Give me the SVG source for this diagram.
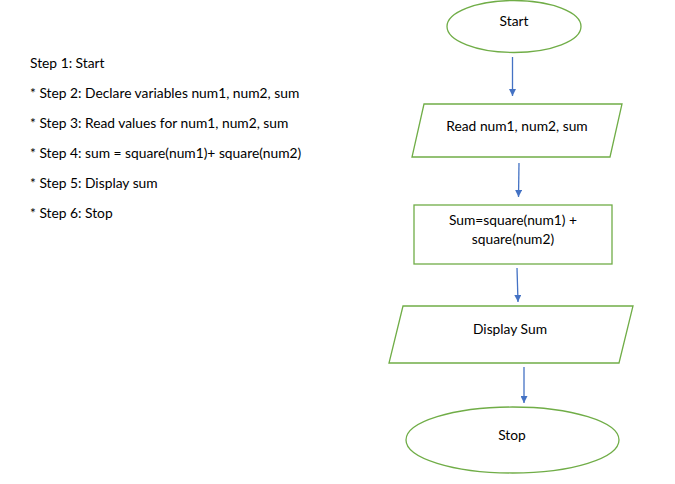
<svg xmlns="http://www.w3.org/2000/svg" width="675" height="484" viewBox="0 0 675 484">
<style>
.shape{fill:#fff;stroke:#70AD47;stroke-width:1.3}
.lbl{font-family:Lato,"Open Sans",sans-serif;font-size:13.8px;fill:#000;text-anchor:middle}
.step{font-family:Lato,"Open Sans",sans-serif;font-size:13.8px;fill:#000}
.conn{stroke:#4472C4;stroke-width:1.3;fill:none;marker-end:url(#ah)}
</style>
<defs>
<marker id="ah" markerWidth="7" markerHeight="7" refX="7" refY="3.5" orient="auto" markerUnits="userSpaceOnUse">
<path d="M0,0 L7,3.5 L0,7 Z" fill="#4472C4"/>
</marker>
</defs>
<rect width="675" height="484" fill="#fff"/>
<g id="steps">
<text class="step" x="30" y="68">Step 1: Start</text>
<text class="step" x="30" y="98">* Step 2: Declare variables num1, num2, sum</text>
<text class="step" x="30" y="128">* Step 3: Read values for num1, num2, sum</text>
<text class="step" x="30" y="158">* Step 4: sum = square(num1)+ square(num2)</text>
<text class="step" x="30" y="188">* Step 5: Display sum</text>
<text class="step" x="30" y="218">* Step 6: Stop</text>
</g>
<g id="start">
<ellipse class="shape" cx="514" cy="26.5" rx="67" ry="26"/>
<text class="lbl" x="514" y="26">Start</text>
</g>
<g id="read">
<polygon class="shape" points="424,104 622,104 610,157 412,157"/>
<text class="lbl" x="517" y="131">Read num1, num2, sum</text>
</g>
<g id="compute">
<rect class="shape" x="414" y="205" width="198" height="59"/>
<text class="lbl" x="513" y="225">Sum=square(num1) +</text>
<text class="lbl" x="513" y="244">square(num2)</text>
</g>
<g id="display">
<polygon class="shape" points="403,306 633,306 619,363 389,363"/>
<text class="lbl" x="510" y="334">Display Sum</text>
</g>
<g id="stop">
<ellipse class="shape" cx="512.5" cy="440" rx="106.5" ry="33"/>
<text class="lbl" x="512" y="440">Stop</text>
</g>
<g id="connectors">
<line class="conn" x1="512.5" y1="57" x2="512.5" y2="96"/>
<line class="conn" x1="519" y1="163" x2="518.5" y2="197"/>
<line class="conn" x1="517" y1="268" x2="518" y2="302"/>
<line class="conn" x1="524" y1="367" x2="524" y2="403"/>
</g>
</svg>
